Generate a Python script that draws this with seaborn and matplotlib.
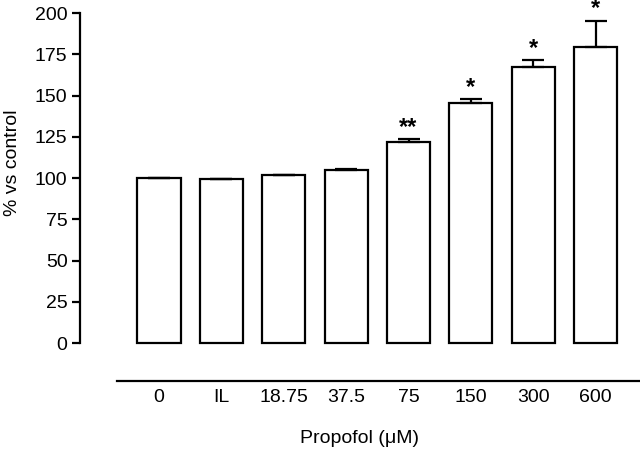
import numpy as np
import pandas as pd
import matplotlib
matplotlib.use("Agg")
import matplotlib.pyplot as plt
import seaborn as sns

# --- data ---
doses = ["0", "IL", "18.75", "37.5", "75", "150", "300", "600"]
pct_control = [100.0, 99.4, 101.8, 104.8, 121.8, 145.5, 167.3, 179.4]
sem = [0.0, 0.0, 0.0, 0.8, 1.8, 2.4, 4.2, 16.0]
stars = ["", "", "", "", "**", "*", "*", "*"]

df = pd.DataFrame({"dose": doses, "pct": pct_control})

sns.set_style("ticks")
plt.rcParams["font.family"] = ["Liberation Sans", "DejaVu Sans"]
plt.rcParams["text.color"] = "black"
plt.rcParams["axes.labelcolor"] = "black"
plt.rcParams["xtick.color"] = "black"
plt.rcParams["ytick.color"] = "black"
plt.rcParams["axes.edgecolor"] = "black"

fig = plt.figure(figsize=(6.4, 4.49), dpi=100)
ax = fig.add_axes([0.125, 0.1442, 0.875, 0.8452])

sns.barplot(data=df, x="dose", y="pct", order=doses, color="white",
            edgecolor="black", linewidth=1.6, width=0.69, ax=ax)

# upper error bars only
x = np.arange(len(doses))
err = np.array(sem)
ax.errorbar(x, pct_control, yerr=[np.zeros_like(err), err], fmt="none",
            ecolor="black", elinewidth=1.6, capsize=8, capthick=1.6, zorder=1)

# significance marks
for i, s in enumerate(stars):
    if s:
        ax.annotate(s, (i, pct_control[i] + sem[i]), xytext=(0, 8.5),
                    textcoords="offset points", ha="center", va="center",
                    fontsize=17, fontweight="bold", annotation_clip=False)

ax.set_xlim(-1.266, 7.71)
ax.set_ylim(-25, 205)
ax.set_yticks(range(0, 201, 25))

ax.spines["right"].set_visible(False)
ax.spines["top"].set_visible(False)
ax.spines["left"].set_bounds(0, 200)
ax.spines["left"].set_linewidth(1.6)
ax.spines["bottom"].set_position(("data", -23))
ax.spines["bottom"].set_bounds(-0.673, 7.71)
ax.spines["bottom"].set_linewidth(1.6)

ax.tick_params(axis="y", length=6, width=1.6, pad=3, labelsize=14)
ax.tick_params(axis="x", length=0, pad=6, labelsize=14)

ax.set_ylabel("% vs control", fontsize=14)
ax.yaxis.set_label_coords(-0.105, 0.583)
ax.set_xlabel("Propofol (μM)", fontsize=14, labelpad=17)

fig.savefig("out.png", dpi=100)
